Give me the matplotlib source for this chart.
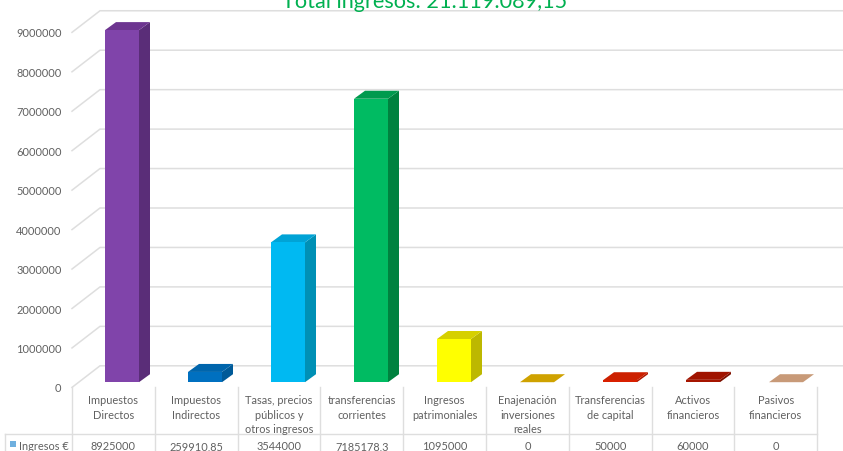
import matplotlib
matplotlib.use("Agg")
import matplotlib.pyplot as plt
from matplotlib.patches import Polygon, Rectangle
from matplotlib.transforms import Affine2D

plt.rcParams["font.family"] = ["Lato", "DejaVu Sans"]

categories = ["Impuestos\nDirectos", "Impuestos\nIndirectos", "Tasas, precios\npúblicos y\notros ingresos",
              "transferencias\ncorrientes", "Ingresos\npatrimoniales", "Enajenación\ninversiones\nreales",
              "Transferencias\nde capital", "Activos\nfinancieros", "Pasivos\nfinancieros"]
values = [8925000, 259910.85, 3544000, 7185178.3, 1095000, 0, 50000, 60000, 0]
value_labels = ["8925000", "259910,85", "3544000", "7185178,3", "1095000", "0", "50000", "60000", "0"]
y_ticks = [0, 1000000, 2000000, 3000000, 4000000, 5000000, 6000000, 7000000, 8000000, 9000000]
title = "Total ingresos: 21.119.089,15"
series_name = "Ingresos €"

front_cols = ["#8044AA", "#0070C0", "#00B9F2", "#00BB62", "#FFFF00", "#CFA200", "#D92000", "#A61500", "#C89A78"]
side_cols = ["#5A2D78", "#005A98", "#0090B5", "#00823F", "#BDB800", "#A88400", "#B01800", "#7E1000", "#A87F60"]
top_cols = ["#6D3590", "#0065AC", "#00A3D6", "#009A4E", "#D6D000", "#CFA200", "#CC2000", "#A01400", "#C89A78"]

W, H = 843, 452
BAR_STEP = 83
TABLE_STEP = 82.8
ZERO_Y = 383.2
fig = plt.figure(figsize=(W / 100, H / 100), dpi=100)
ax = fig.add_axes([0, 0, 1, 1])

# scale: 83 px per category, 39.45 px per million, bar 0 centred on x=122
px_x = 1 / BAR_STEP
px_y = 1e6 / 39.45
ax.set_xlim((0 - 122) * px_x, (W - 122) * px_x)
ax.set_ylim((ZERO_Y - H) * px_y, ZERO_Y * px_y)
ax.axis("off")

# pixel coordinates for the table and text
pix = Affine2D().scale(1 / W, -1 / H).translate(0, 1) + fig.transFigure

grid_col = "#DEDEDE"
text_col = "#606060"
font_size = 7.9
bar_w = 34 * px_x
dx = 11 * px_x
dy = 8 * px_y

# walls
wall_left = -50 * px_x
wall_dx = 28 * px_x
wall_dy = 21.6 * px_y
floor_off = -5.2 * px_y
for t in y_ticks:
    yy = t + floor_off
    ax.plot([wall_left, wall_left + wall_dx, (W - 122) * px_x], [yy, yy + wall_dy, yy + wall_dy],
            color=grid_col, lw=1.1, solid_joinstyle="miter", zorder=1)
    ax.text(wall_left - 10.5 * px_x, yy - 0.6 * px_y, str(t), ha="right", va="center",
            fontsize=font_size, color=text_col)

# bars
for i, v in enumerate(values):
    l = i - bar_w / 2
    r = i + bar_w / 2
    if v > 0:
        ax.add_patch(Polygon([(r, 0), (r + dx, dy), (r + dx, v + dy), (r, v)], fc=side_cols[i], ec="none", zorder=2))
    ax.add_patch(Polygon([(l, v), (r, v), (r + dx, v + dy), (l + dx, v + dy)], fc=top_cols[i], ec="none", zorder=3))
    if v > 0:
        ax.add_patch(Rectangle((l, 0), bar_w, v, fc=front_cols[i], ec="none", zorder=3))

# data table
table_x = [72 + TABLE_STEP * i for i in range(len(categories) + 1)]
ax.plot([5, table_x[-1]], [435, 435], color=grid_col, lw=1, transform=pix)
for x in table_x:
    ax.plot([x, x], [388, H], color=grid_col, lw=1, transform=pix)
ax.plot([5, 5], [435, H], color=grid_col, lw=1, transform=pix)
line_y = [401, 415.5, 429.5]
for i, cat in enumerate(categories):
    cx = table_x[i] + TABLE_STEP / 2
    for row, part in enumerate(cat.split("\n")):
        ax.text(cx, line_y[row], part, transform=pix, ha="center", va="center", fontsize=font_size, color=text_col)
    ax.text(cx, 446.5, value_labels[i], transform=pix, ha="center", va="center", fontsize=font_size, color=text_col)
ax.add_patch(Rectangle((10, 441.5), 6, 6, fc="#6FB0DF", ec="none", transform=pix))
ax.text(19, 446.5, series_name, transform=pix, ha="left", va="center", fontsize=font_size, color=text_col)

ax.text(425, 8, title, transform=pix, ha="center", va="baseline", fontsize=15.6, color="#00B050", clip_on=False)

fig.savefig("out.png", dpi=100)
